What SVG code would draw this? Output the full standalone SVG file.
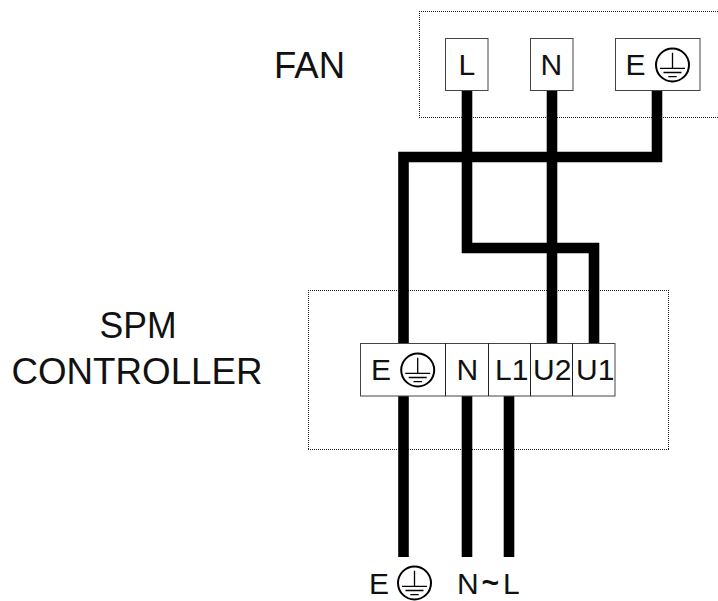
<svg xmlns="http://www.w3.org/2000/svg" width="718" height="601" viewBox="0 0 718 601">
<style>
text{font-family:"Liberation Sans",Arial,sans-serif;fill:#111}
.big{font-size:36px}
.t{font-size:30px}
.term{fill:#fff;stroke:#444;stroke-width:1}
.sep{stroke:#222;stroke-width:1;fill:none}
.dot{fill:none;stroke:#222;stroke-width:1;stroke-dasharray:1 1}
.wire{fill:none;stroke:#000;stroke-width:10.6;stroke-linejoin:miter}
.g{fill:none;stroke:#000}
</style>
<defs>
<g id="earth" class="g">
<circle r="16.5" stroke-width="2"/>
<path stroke-width="1.3" d="M0-12.3V3.3M-12.5 3.3H12.5M-9 7.5H9M-4.2 11.7H4.2"/>
</g>
</defs>
<rect width="718" height="601" fill="#fff"/>
<g id="fan-box"><path class="dot" d="M419 11.5H718M419 117.5H718M419.5 11V118"/></g>
<g id="controller-box"><path class="dot" d="M308 290.5H669M308 449.5H669M308.5 290V450M668.5 290V450"/></g>
<g id="connectors">
<path class="wire" d="M467 90V248H594V343"/>
<path class="wire" d="M552 90V343"/>
<path class="wire" d="M657 90V157H403.5V343"/>
<path class="wire" d="M403.5 396V557"/>
<path class="wire" d="M467 396V557"/>
<path class="wire" d="M509 396V557"/>
</g>
<g id="fan-label"><text class="big" x="274" y="77.5" textLength="71" lengthAdjust="spacingAndGlyphs">FAN</text></g>
<g id="fan-L"><rect class="term" x="445.5" y="38.5" width="42.5" height="52"/><text class="t" x="458.5" y="75">L</text></g>
<g id="fan-N"><rect class="term" x="530.5" y="38.5" width="42.5" height="52"/><text class="t" x="540.5" y="75">N</text></g>
<g id="fan-E"><rect class="term" x="615.5" y="38.5" width="84.5" height="52"/><text class="t" x="625.5" y="75">E</text><use href="#earth" x="672.5" y="65"/></g>
<g id="spm-label"><text class="big" x="138" y="338" text-anchor="middle" textLength="77" lengthAdjust="spacingAndGlyphs">SPM</text><text class="big" x="137" y="384" text-anchor="middle" textLength="251" lengthAdjust="spacingAndGlyphs">CONTROLLER</text></g>
<g id="controller-terminals">
<rect class="term" x="360.5" y="343.5" width="254.5" height="52.5"/>
<path class="sep" d="M445.5 343V396M488.5 343V396M530.5 343V396M572.5 343V396"/>
<text class="t" x="371" y="380">E</text><use href="#earth" x="417.7" y="370"/>
<text class="t" x="456.5" y="380">N</text>
<text class="t" x="495" y="380">L1</text>
<text class="t" x="533" y="380">U2</text>
<text class="t" x="576" y="380">U1</text>
</g>
<g id="supply-label">
<text class="t" x="369" y="594">E</text><use href="#earth" x="414.5" y="583"/>
<text class="t" x="457" y="594">N</text>
<text class="t" x="481.5" y="593" font-weight="bold" font-size="26">~</text>
<text class="t" x="503" y="594">L</text>
</g>
</svg>
